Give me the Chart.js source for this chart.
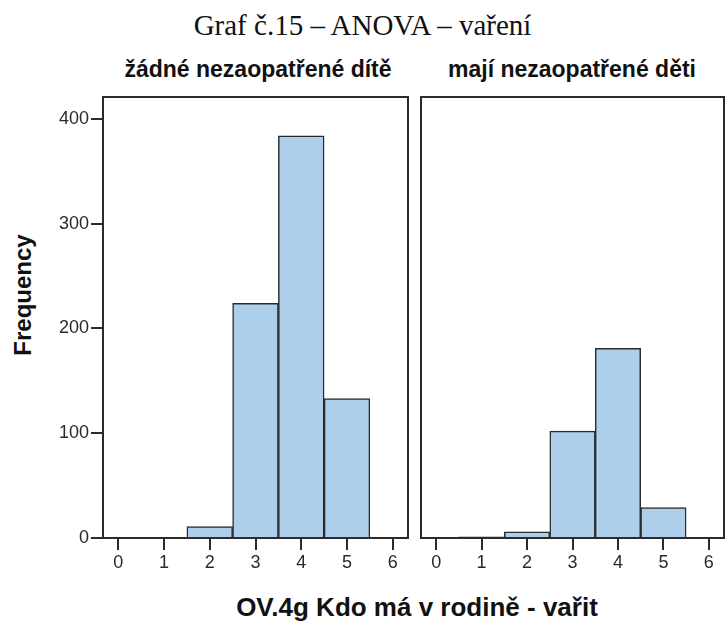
<!DOCTYPE html>
<html lang="cs">
<head>
<meta charset="utf-8">
<title>Graf č.15 – ANOVA – vaření</title>
<script src="https://cdn.jsdelivr.net/npm/chart.js@4.4.1/dist/chart.umd.min.js"></script>
<style>
  html, body { margin: 0; padding: 0; background: #fff; }
  #stage { position: relative; width: 725px; height: 624px; overflow: hidden; }
  #stage canvas { position: absolute; top: 0; }
  .txt { position: absolute; white-space: nowrap; color: #111; }
  #title { left: 0; width: 725px; top: 11px; text-align: center; font: 29px/29px "Liberation Serif", "Times New Roman", serif; }
  .panel-title { top: 58px; width: 320px; text-align: center; font: bold 23px/23px "Liberation Sans", Arial, sans-serif; }
  #xTitle { left: 217px; width: 400px; top: 594px; text-align: center; font: bold 26px/26px "Liberation Sans", Arial, sans-serif; }
  #yTitle { left: 23px; top: 295px; font: bold 24px/24px "Liberation Sans", Arial, sans-serif; transform: translate(-50%, -50%) rotate(-90deg); }
</style>
</head>
<body>
<div id="stage">
  <div id="title" class="txt">Graf č.15 – ANOVA – vaření</div>
  <div class="txt panel-title" style="left:98px">žádné nezaopatřené dítě</div>
  <div class="txt panel-title" style="left:412px">mají nezaopatřené děti</div>
  <div id="yTitle" class="txt">Frequency</div>
  <div id="xTitle" class="txt">OV.4g Kdo má v rodině - vařit</div>
  <canvas id="left" width="412" height="624" style="left:0;width:412px;height:624px"></canvas>
  <canvas id="right" width="313" height="624" style="left:412px;width:313px;height:624px"></canvas>
</div>
<script>
// Hodnoty (OV.4g, škála 1–5)
const scores = [1, 2, 3, 4, 5];
const noChildren = [0, 11, 224, 384, 133];   // žádné nezaopatřené dítě
const withChildren = [1, 6, 102, 181, 29];   // mají nezaopatřené děti
const xTicks = [0, 1, 2, 3, 4, 5, 6];
const yTicks = [0, 100, 200, 300, 400];

const FILL = '#aecfec';
const LINE = '#2b2b2b';
const TICK_TEXT = '#2a2a2a';
const FONT = '"Liberation Sans", Arial, sans-serif';

// rámeček kolem plochy grafu (SPSS styl)
const framePlugin = {
  id: 'frame',
  afterDraw(chart) {
    const { ctx, chartArea: a } = chart;
    ctx.save();
    ctx.strokeStyle = LINE;
    ctx.lineWidth = 2;
    ctx.strokeRect(a.left, a.top, a.right - a.left, a.bottom - a.top);
    ctx.restore();
  },
};

function panel(canvas, counts, { showY, padding }) {
  return new Chart(canvas, {
    type: 'bar',
    data: {
      datasets: [{
        data: scores.map((s, i) => ({ x: s, y: counts[i] })),
        backgroundColor: FILL,
        borderColor: LINE,
        borderWidth: 1.5,
        barPercentage: 1,
        categoryPercentage: 1,
      }],
    },
    options: {
      responsive: false, animation: false,
      layout: { padding },
      plugins: { legend: { display: false }, tooltip: { enabled: false } },
      scales: {
        x: {
          type: 'linear', min: -1 / 3, max: 19 / 3, offset: false,
          afterBuildTicks: (s) => { s.ticks = xTicks.map((v) => ({ value: v })); },
          afterFit: (s) => { s.height = 40; },
          border: { display: false },
          grid: { offset: false, drawOnChartArea: false, drawTicks: true, tickLength: 12, color: LINE, lineWidth: 2 },
          ticks: { color: TICK_TEXT, padding: 2, font: { family: FONT, size: 18 }, maxRotation: 0 },
        },
        y: {
          display: showY, min: 0, max: 421,
          afterBuildTicks: (s) => { s.ticks = yTicks.map((v) => ({ value: v })); },
          afterFit: (s) => { s.width = showY ? 103 : 0; },
          border: { display: false },
          grid: { drawOnChartArea: false, drawTicks: true, tickLength: 12, color: LINE, lineWidth: 2 },
          ticks: { color: TICK_TEXT, padding: 2, font: { family: FONT, size: 18 } },
        },
      },
    },
    plugins: [framePlugin],
  });
}

panel(document.getElementById('left'), noChildren, { showY: true, padding: { left: 0, right: 4, top: 97, bottom: 46 } });
panel(document.getElementById('right'), withChildren, { showY: false, padding: { left: 9, right: 1, top: 97, bottom: 46 } });
</script>
</body>
</html>
